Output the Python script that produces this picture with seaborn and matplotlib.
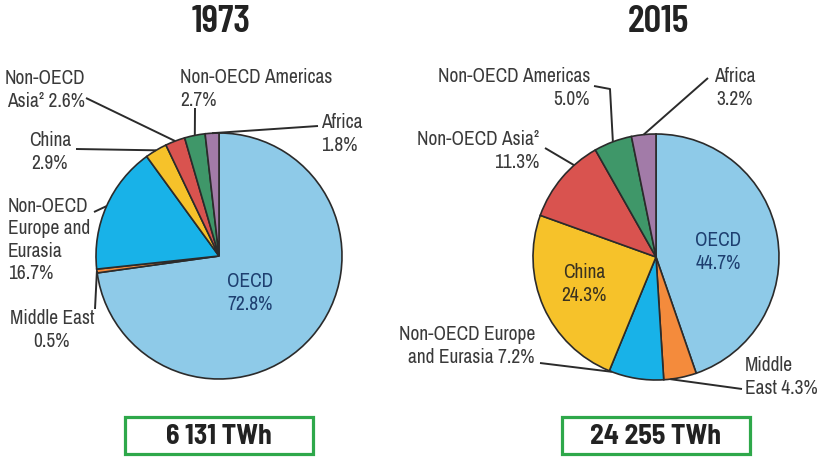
import numpy as np
import matplotlib
matplotlib.use("Agg")
import matplotlib.pyplot as plt
import seaborn as sns
from matplotlib.patches import Rectangle

# Data
regions = ["OECD", "Middle East", "Non-OECD Europe and Eurasia", "China",
           "Non-OECD Asia", "Non-OECD Americas", "Africa"]
share_1973 = [72.8, 0.5, 16.7, 2.9, 2.6, 2.7, 1.8]
share_2015 = [44.7, 4.3, 7.2, 24.3, 11.3, 5.0, 3.2]
years = ["1973", "2015"]
totals = ["6 131 TWh", "24 255 TWh"]

colors = ["#8ECAE8", "#F48B3C", "#18B2E8", "#F6C22A", "#D9534F", "#3F9769", "#A27BA8"]

# label texts per pie (same order as regions)
labels_1973 = ["OECD\n72.8%", "Middle East\n0.5%", "Non-OECD\nEurope and\nEurasia\n16.7%",
               "China\n2.9%", "Non-OECD\nAsia\u00b2 2.6%", "Non-OECD Americas\n2.7%",
               "Africa\n1.8%"]
labels_2015 = ["OECD\n44.7%", "Middle\nEast 4.3%", "Non-OECD Europe\nand Eurasia 7.2%",
               "China\n24.3%", "Non-OECD Asia\u00b2\n11.3%", "Non-OECD Americas\n5.0%",
               "Africa\n3.2%"]

W, H = 819, 458
sns.set_theme(style="white")
plt.rcParams["font.family"] = ["Archivo Narrow", "DejaVu Sans"]
title_font = ["Barlow Condensed", "DejaVu Sans"]
box_font = ["Barlow Semi Condensed", "Barlow Condensed", "DejaVu Sans"]

fig = plt.figure(figsize=(W / 100, H / 100), dpi=100)
ax = fig.add_axes([0, 0, 1, 1])

# layout in pixels (x, y from top)
centers = [(219, 256), (656, 257)]
radius = 123

# text position, alignment, leader points from text towards the wedge,
# frac = where on the wedge arc the leader ends
layout_1973 = [
    dict(xy=(250, 293), ha="center", inside=True, color="#1E3F70"),
    dict(xy=(52, 330), ha="center", lead=[(95, 309)]),
    dict(xy=(8, 240), ha="left", lead=[(94, 212)]),
    dict(xy=(50, 152), ha="center", lead=[(76, 149)]),
    dict(xy=(46, 90), ha="right", xr=85, lead=[(86, 98)]),
    dict(xy=(180, 89), ha="left", lead=[(195, 108)]),
    dict(xy=(321, 134), ha="left", lead=[(318, 126)]),
]
layout_2015 = [
    dict(xy=(718, 252), ha="center", inside=True, color="#1E3F70"),
    dict(xy=(745, 377), ha="left", lead=[(742, 389)], frac=0.2),
    dict(xy=(535, 346), ha="right", lead=[(540, 363)], frac=0.05),
    dict(xy=(584, 284), ha="center", inside=True, color="#3A3220"),
    dict(xy=(539, 151), ha="right", lead=[(545, 148)], frac=0.3),
    dict(xy=(590, 88), ha="right", lead=[(594, 86), (610, 89)]),
    dict(xy=(735, 88), ha="center", lead=[(708, 78)]),
]

text_kw = dict(fontsize=14, color="#3A3A3A", va="center", linespacing=1.22)

for (cx, cy), shares, labels, layout, year, total in zip(
        centers, [share_1973, share_2015], [labels_1973, labels_2015],
        [layout_1973, layout_2015], years, totals):
    wedges, _ = ax.pie(shares, colors=colors, startangle=90, counterclock=False,
                       center=(cx, H - cy), radius=radius,
                       wedgeprops=dict(edgecolor="#2B2B2B", linewidth=1.2))
    for w, lab, lay in zip(wedges, labels, layout):
        kw = dict(text_kw)
        if "color" in lay:
            kw["color"] = lay["color"]
        tx = lay.get("xr", lay["xy"][0])
        ax.text(tx, H - lay["xy"][1], lab, ha=lay["ha"],
                multialignment=lay["ha"], **kw)
        if lay.get("inside"):
            continue
        f = lay.get("frac", 0.5)
        ang = np.deg2rad(w.theta1 + f * (w.theta2 - w.theta1))
        anchor = (cx + radius * np.cos(ang), H - cy + radius * np.sin(ang))
        pts = [(px, H - py) for px, py in lay["lead"]] + [anchor]
        xs, ys = zip(*pts)
        ax.plot(xs, ys, color="#2B2B2B", lw=1.4, solid_capstyle="butt")

    ax.text(cx + 2, H - 22, year, ha="center", va="center", fontsize=28,
            fontweight="semibold", family=title_font, color="#222222")
    ax.add_patch(Rectangle((cx - 94, H - 454), 188, 37, fill=False,
                           edgecolor="#2EA84A", linewidth=2.3))
    ax.text(cx, H - 436, total, ha="center", va="center", fontsize=20,
            fontweight="bold", family=box_font, color="#222222")

ax.set_xlim(0, W)
ax.set_ylim(0, H)
ax.set_aspect("equal")
ax.axis("off")

fig.savefig("out.png", dpi=100, facecolor="white")
